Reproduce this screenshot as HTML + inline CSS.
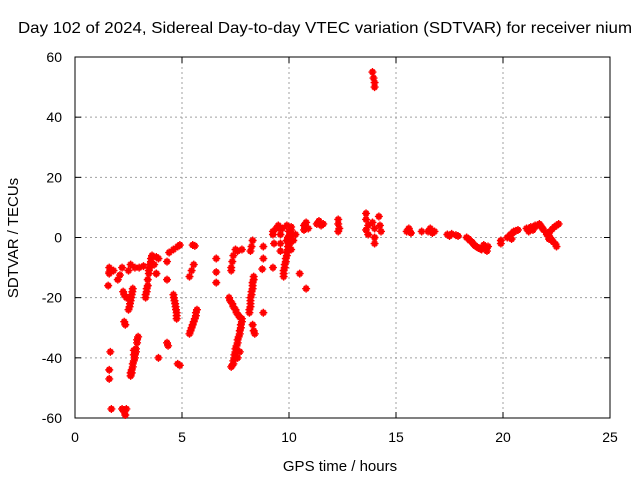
<!DOCTYPE html>
<html><head><meta charset="utf-8"><style>
body{margin:0;background:#fff}
svg{display:block;font-family:"Liberation Sans",sans-serif}
</style></head><body>
<svg id="c" width="640" height="480">
<rect width="640" height="480" fill="#fff"/>
<text x="18" y="33" font-size="16" textLength="614" lengthAdjust="spacingAndGlyphs">Day 102 of 2024, Sidereal Day-to-day VTEC variation (SDTVAR) for receiver nium</text>
<text transform="translate(18,238) rotate(-90)" text-anchor="middle" font-size="15">SDTVAR / TECUs</text>
<text x="340" y="471" text-anchor="middle" font-size="15">GPS time / hours</text>
<g id="grid"></g>
<g id="axes"></g>
<g id="pts"></g>
</svg>
<script>
const xTicks=[0,5,10,15,20,25];
const yTicks=[-60,-40,-20,0,20,40,60];
const hours=[1.6,1.6,1.55,1.65,1.6,1.6,1.7,
2.2,2.3,2.35,2.4,
2.3,2.35,2.25,2.3,2.4,
2.7,2.65,2.6,2.55,2.5,
2.95,2.9,2.85,2.8,2.75,2.7,2.65,2.6,2.75,2.75,
1.6,1.8,2.2,2.5,2.8,2.6,2.1,2.0,3.0,3.2,
3.6,3.55,3.5,3.45,3.4,3.35,3.3,3.7,3.8,3.9,3.8,3.8,4.3,4.3,
4.4,4.6,4.8,4.9,5.5,5.6,
4.6,4.65,4.7,4.75,4.75,
5.7,5.65,5.55,5.45,5.35,
5.55,5.45,5.35,
4.3,4.35,4.8,4.9,3.9,
6.6,6.6,6.6,
7.5,7.6,7.8,7.4,7.35,7.3,7.3,
7.2,7.35,7.5,7.65,7.8,
7.8,7.75,7.7,7.6,7.55,7.5,7.45,7.4,7.3,7.6,7.7,
8.3,8.25,8.2,
8.35,8.3,8.3,8.25,8.2,8.2,8.15,
8.3,8.35,8.4,
8.8,8.8,8.8,8.75,
9.25,9.25,9.3,9.25,9.6,9.6,9.6,9.6,
10.0,10.1,10.05,9.95,9.9,10.0,9.95,9.9,9.85,9.8,9.75,9.75,10.1,10.2,10.3,9.7,9.5,9.4,9.9,
10.5,10.8,
10.7,10.8,10.9,10.7,11.3,11.4,11.5,11.6,
12.3,12.3,12.35,12.3,
13.6,13.6,13.7,13.6,13.7,13.9,14.0,14.0,14.0,14.2,14.25,14.3,
13.9,13.95,14.0,14.0,
15.5,15.6,15.7,15.6,16.2,16.5,16.6,16.7,16.8,
17.4,17.5,17.6,17.8,17.9,
18.3,18.45,18.6,18.7,18.85,19.0,19.1,19.2,19.25,19.3,
19.9,19.9,
20.2,20.35,20.5,20.7,20.4,
21.1,21.3,21.5,21.7,21.8,21.9,21.4,21.2,
22.6,22.4,22.2,22.05,22.2,22.35,22.5,
2.9,2.85,2.8,2.7,2.65,2.6,
3.55,3.5,3.45,3.4,3.35,3.3,
7.75,7.7,7.65,7.6,7.5,7.45,7.4,7.35,7.25,7.4,7.55,7.7,
8.35,8.3,8.25,8.2,8.2,8.15,
10.0,9.95,9.9,9.85,9.8,9.75,10.05,10.1,
5.65,5.6,5.5,5.4,
4.62,4.68,4.72,4.75,
2.68,2.62,2.57,
18.4,18.55,18.65,18.8,18.95,
21.2,21.4,21.6,21.75,21.85,
22.5,22.3,22.1,22.15,22.3,22.45,
20.3,20.45,20.6];
const sdtvar=[-10,-11.5,-16,-38,-44,-47,-57,
-57,-58,-59,-57,
-28,-29,-18,-19,-20,
-17,-19,-21,-23,-24,
-33,-35,-37,-39,-41,-43,-45,-46,-37.5,-39,
-12,-11,-10,-11,-10,-9,-12.5,-14,-10,-9.5,
-6,-8,-10,-12,-16,-18,-20,-9,-12,-7,-6.5,-12,-8,-14,
-5,-4,-3,-2.5,-2.5,-2.8,
-19,-21,-23,-25,-27,
-24,-26,-28,-30,-32,
-9,-11,-13,
-35,-36,-42,-42.5,-40,
-7,-11.5,-15,
-4,-4.5,-4,-6,-8,-10,-11,
-20,-22,-24,-26,-27,
-28,-30,-32,-34,-36,-38,-40,-42,-43,-40,-38,
-1,-3,-4.5,
-13,-15,-17,-19,-21,-23,-25,
-29,-31,-32,
-25,-3,-7,-10.5,
1,2,-2,-10,1,3,-2,-4.5,
2,3.5,1,0,-1,-2,-3,-5,-7,-9,-11,-13,-4,-1,1,3,4,3,4,
-12,-17,
4,5,3,2.5,4.5,5.5,4,4.5,
6,4.5,3,2,
8,6,4,2.5,1,5,3,0,-2,7,4,2,
55,53,51.5,50,
2,2.5,1.5,3,2,2,3,1.5,2,
1,0.5,1.2,0.8,0.5,
0,-1,-2,-2.8,-3.5,-4,-2.5,-3.5,-4.5,-3,
-1,-2,
0,1,2,2.5,-0.5,
3,3.5,4,4.5,3.5,2.5,2.5,2,
4.5,3.5,2,1,0,-1.5,-3,
-34,-38,-40,-42,-44,-45,
-7,-9,-11,-14,-17,-19,
-29,-31,-33,-35,-37,-39,-41,-42.5,-21,-23,-25,-26.5,
-14,-16,-18,-20,-22,-24,
-2.5,-4,-6,-8,-10,-12,0.5,2.5,
-25,-27,-29,-31,
-20,-22,-24,-26,
-18,-20,-22,
-0.5,-1.5,-2.4,-3.2,-3.8,
2.5,3,4,4,3,
4,2.8,1.5,-0.5,-1,-2.2,
0.5,1.5,2.2];
const NS="http://www.w3.org/2000/svg";
const L=75,R=610,T=57,B=418;
const sx=v=>L+(v-0)/25*(R-L);
const sy=v=>B-(v+60)/120*(B-T);
function mk(tag,attrs,parent){const e=document.createElementNS(NS,tag);for(const k in attrs)e.setAttribute(k,attrs[k]);parent.appendChild(e);return e;}
const grid=document.getElementById('grid'),axes=document.getElementById('axes'),pts=document.getElementById('pts');
xTicks.forEach(t=>{
 const x=sx(t);
 if(t>0&&t<25){const g=mk('line',{x1:x,x2:x,y1:T,y2:B,stroke:'#a0a0a0','stroke-dasharray':'2,3'},grid);
 
 }
 const a=mk('line',{x1:x,x2:x,y1:B,y2:B-6,stroke:'#000'},axes);
 
 
 const b=mk('line',{x1:x,x2:x,y1:T,y2:T+6,stroke:'#000'},axes);
 
 
 const tx=mk('text',{x:x,y:442,'text-anchor':'middle','font-size':14},axes);tx.textContent=t;
 
 
});
yTicks.forEach(t=>{
 const y=sy(t);
 if(t>-60&&t<60){const g=mk('line',{x1:L,x2:R,y1:y,y2:y,stroke:'#a0a0a0','stroke-dasharray':'2,3'},grid);
 
 }
 const a=mk('line',{x1:L,x2:L+6,y1:y,y2:y,stroke:'#000'},axes);
 
 
 const b=mk('line',{x1:R,x2:R-6,y1:y,y2:y,stroke:'#000'},axes);
 
 
 const tx=mk('text',{x:62,y:y+5,'text-anchor':'end','font-size':14},axes);tx.textContent=t;
 
 
});
const fr=mk('rect',{x:L,y:T,width:R-L,height:B-T,fill:'none',stroke:'#000'},axes);


for(let i=0;i<hours.length;i++){
 const x=sx(hours[i]),y=sy(sdtvar[i]);
 const p=mk('path',{d:`M${x-4} ${y}h8M${x} ${y-4}v8M${x-3} ${y+1.5}h6M${x-3} ${y-1.5}h6M${x-1.5} ${y-3}v6M${x+1.5} ${y-3}v6`,stroke:'#f00','stroke-width':1.4,fill:'none'},pts);
 
 
}
</script>
</body></html>
